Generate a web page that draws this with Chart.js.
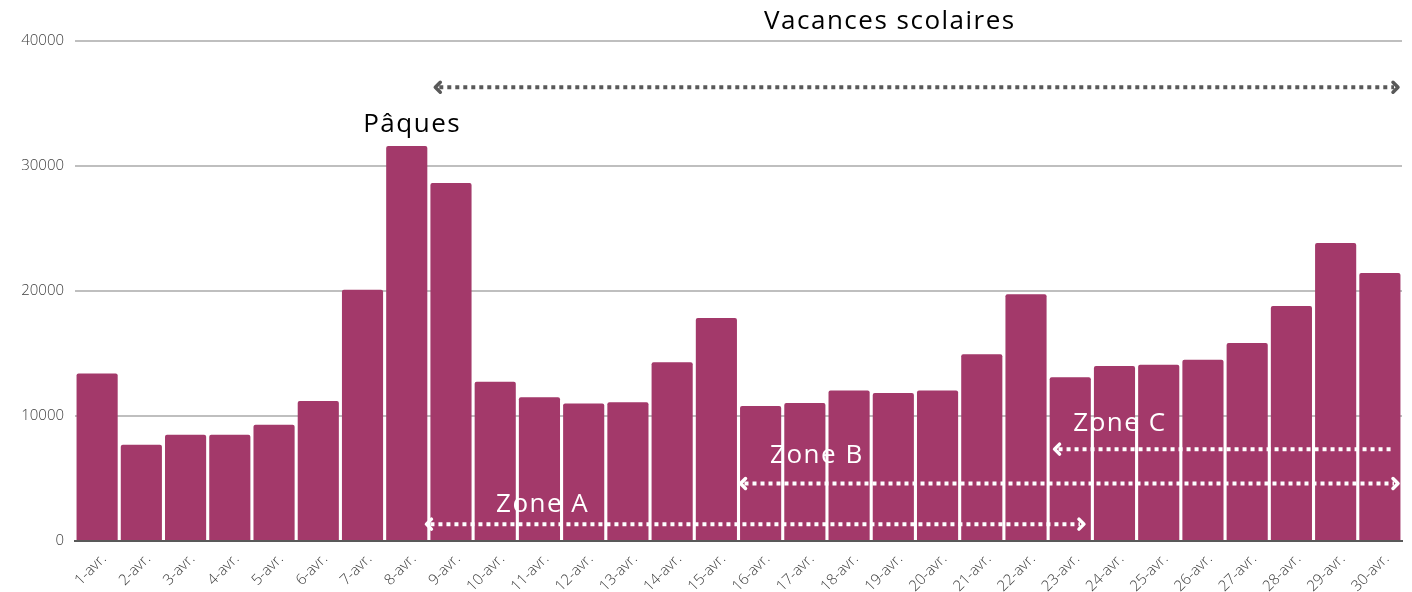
<!DOCTYPE html>
<html><head><meta charset="utf-8">
<script src="https://cdn.jsdelivr.net/npm/chart.js@4/dist/chart.umd.min.js"></script>
<style>html,body{margin:0;padding:0;background:#fff}#wrap{width:1412px;height:592px}</style>
</head><body><div id="wrap"><canvas id="c" width="1412" height="592"></canvas></div>
<script>
const categories = ["1-avr.","2-avr.","3-avr.","4-avr.","5-avr.","6-avr.","7-avr.","8-avr.","9-avr.","10-avr.","11-avr.","12-avr.","13-avr.","14-avr.","15-avr.","16-avr.","17-avr.","18-avr.","19-avr.","20-avr.","21-avr.","22-avr.","23-avr.","24-avr.","25-avr.","26-avr.","27-avr.","28-avr.","29-avr.","30-avr."];
const visits = [13400,7700,8500,8500,9300,11200,20100,31600,28650,12750,11500,11000,11100,14300,17850,10800,11050,12050,11850,12050,14950,19750,13100,14000,14100,14500,15850,18800,23850,21450];
const yTicks = [0,10000,20000,30000,40000];
// annotations: [text, category position, value, color]
const labels = [["Vacances scolaires",18.4,41550,"#000"],["Pâques",7.6,33300,"#000"],["Zone A",10.55,2900,"#fff"],["Zone B",16.75,6800,"#fff"],["Zone C",23.6,9400,"#fff"]];
// arrows: [startPos, endPos, value, color, leftHead, rightHead]
const arrows = [[8.1,30,36300,"#595959",true,true],[7.9,22.9,1350,"#fff",true,true],[15,30,4600,"#fff",true,true],[22.1,30,7350,"#fff",true,false]];

const annot = {
  id:'annot',
  afterDatasetsDraw(chart){
    const ctx = chart.ctx, xs = chart.scales.x, ys = chart.scales.y;
    const n = categories.length;
    const xAt = p => xs.left + p*(xs.right-xs.left)/n;
    ctx.save();
    arrows.forEach(([a,b,v,col,lh,rh])=>{
      const x1=xAt(a), x2=xAt(b)-2, y=ys.getPixelForValue(v);
      ctx.strokeStyle=col; ctx.lineWidth=4; ctx.setLineDash([4,4]); ctx.lineCap='butt';
      ctx.beginPath(); ctx.moveTo(x1+6,y); ctx.lineTo(x2-6,y); ctx.stroke();
      ctx.setLineDash([]); ctx.lineWidth=3.5; ctx.lineCap='round'; ctx.lineJoin='round';
      if(lh){ctx.beginPath();ctx.moveTo(x1+7,y-5);ctx.lineTo(x1+2,y);ctx.lineTo(x1+7,y+5);ctx.stroke();}
      if(rh){ctx.beginPath();ctx.moveTo(x2-7,y-5);ctx.lineTo(x2-2,y);ctx.lineTo(x2-7,y+5);ctx.stroke();}
    });
    ctx.textAlign='center'; ctx.textBaseline='middle';
    ctx.letterSpacing='1.5px';
    labels.forEach(([t,p,v,col])=>{
      ctx.fillStyle=col; ctx.font= "26px 'Open Sans'";
      ctx.fillText(t, xAt(p)+1, ys.getPixelForValue(v));
    });
    ctx.restore();
  }
};

new Chart(document.getElementById('c'),{
  type:'bar',
  data:{labels:categories,datasets:[{data:visits,backgroundColor:'#a3396a',barPercentage:0.93,categoryPercentage:1,borderRadius:{topLeft:2,topRight:2}}]},
  options:{
    responsive:false,animation:false,
    layout:{padding:{top:41,right:10,left:0,bottom:0}},
    plugins:{legend:{display:false},tooltip:{enabled:false}},
    scales:{
      x:{grid:{display:false},border:{display:true,color:'#595959',width:2},
         ticks:{color:'#404040',font:{family:"'Open Sans'",size:15,weight:300},minRotation:45,maxRotation:45,padding:1,labelOffset:7},
         afterFit(s){s.height=51;}},
      y:{min:0,max:40000,afterBuildTicks(s){s.ticks=yTicks.map(v=>({value:v}));},
         grid:{color:'#bfbfbf',lineWidth:2,drawTicks:false},border:{display:false},
         ticks:{color:'#404040',font:{family:"'Open Sans'",size:15,weight:300},padding:11,callback:v=>String(v)},
         afterFit(s){s.width=75;}}
    }
  },
  plugins:[annot]
});
</script></body></html>
